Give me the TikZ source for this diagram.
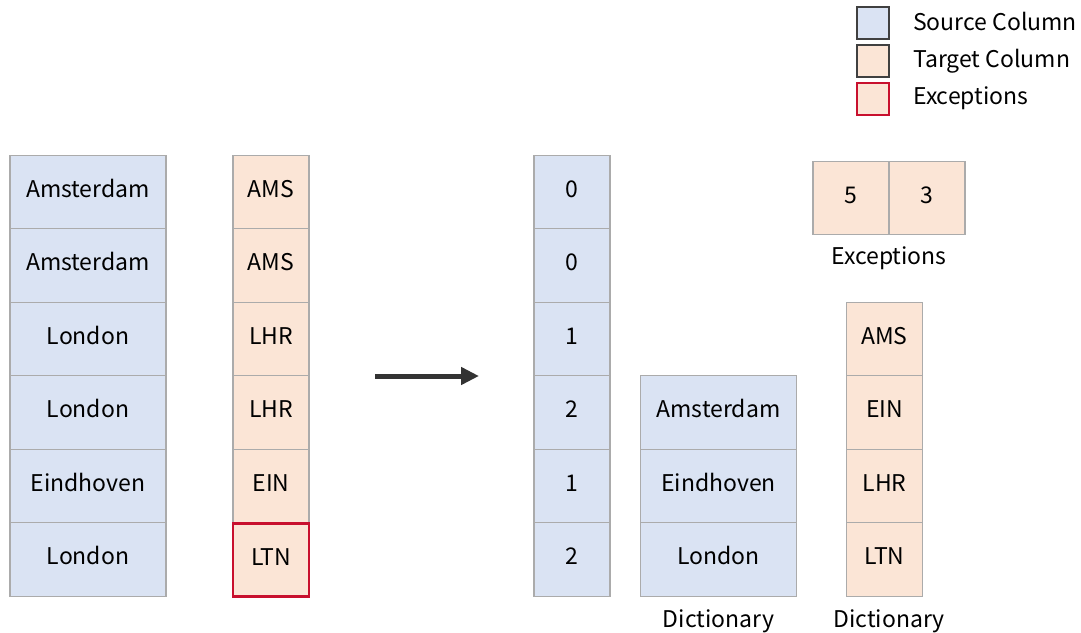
\documentclass[tikz,border=0pt]{standalone}
\usepackage{fontspec}
\setmainfont{Noto Sans CJK SC}
\usetikzlibrary{arrows.meta}
\definecolor{srcblue}{HTML}{DAE3F3}
\definecolor{tgtorange}{HTML}{FBE5D6}
\definecolor{cellgray}{HTML}{ABABAB}
\definecolor{legendgray}{HTML}{404040}
\definecolor{excred}{HTML}{C8102E}
\definecolor{arrowgray}{HTML}{333333}
\begin{document}
\begin{tikzpicture}[x=1pt,y=-1pt,
  txt/.style={font=\fontsize{23}{26}\selectfont, text=black},
  cell/.style={txt, draw=cellgray, line width=1.3pt, inner sep=0pt, minimum height=73.5pt,
    text height=16pt, text depth=5.2pt},
  srccell/.style={cell, fill=srcblue},
  tgtcell/.style={cell, fill=tgtorange},
  wide/.style={minimum width=156pt},
  narrow/.style={minimum width=76pt},
  excbox/.style={draw=excred, line width=2.6pt},
  legbox/.style={draw=legendgray, line width=1.8pt, minimum width=32pt, minimum height=32pt, inner sep=0pt},
  legtxt/.style={txt, anchor=base west, inner sep=0pt},
  caption/.style={txt, anchor=base, inner sep=0pt}
]
\useasboundingbox (0,0) rectangle (1081,632);

% legend
\node[legbox, fill=srcblue] (lg1) at (873,23) {};
\node[legbox, fill=tgtorange] (lg2) at (873,61) {};
\node[legbox, fill=tgtorange, draw=excred, line width=2.2pt] (lg3) at (873,99) {};
\node[legtxt] (lt1) at (913,30.5) {Source Column};
\node[legtxt] (lt2) at (913,67) {Target Column};
\node[legtxt] (lt3) at (913,104.5) {Exceptions};

% original source column
\node[srccell, wide] (s1) at (88,192) {Amsterdam};
\node[srccell, wide] (s2) at (88,265.5) {Amsterdam};
\node[srccell, wide] (s3) at (88,339) {London};
\node[srccell, wide] (s4) at (88,412.5) {London};
\node[srccell, wide] (s5) at (88,486) {Eindhoven};
\node[srccell, wide] (s6) at (88,559.5) {London};

% original target column
\node[tgtcell, narrow] (t1) at (271,192) {AMS};
\node[tgtcell, narrow] (t2) at (271,265.5) {AMS};
\node[tgtcell, narrow] (t3) at (271,339) {LHR};
\node[tgtcell, narrow] (t4) at (271,412.5) {LHR};
\node[tgtcell, narrow] (t5) at (271,486) {EIN};
\node[tgtcell, narrow, excbox] (t6) at (271,560) {LTN};

% transformation arrow
\coordinate (a0) at (375,376);
\coordinate (a1) at (479,376);
\draw[arrowgray, line width=5pt, -{Triangle[length=18pt,width=17pt]}] (a0) -- (a1);

% encoded column
\node[srccell, narrow] (c1) at (572,192) {0};
\node[srccell, narrow] (c2) at (572,265.5) {0};
\node[srccell, narrow] (c3) at (572,339) {1};
\node[srccell, narrow] (c4) at (572,412.5) {2};
\node[srccell, narrow] (c5) at (572,486) {1};
\node[srccell, narrow] (c6) at (572,559.5) {2};

% source dictionary
\node[srccell, wide] (d1) at (718.5,412.5) {Amsterdam};
\node[srccell, wide] (d2) at (718.5,486) {Eindhoven};
\node[srccell, wide] (d3) at (718.5,559.5) {London};
\node[caption] (dcap1) at (718.5,627) {Dictionary};

% target dictionary
\node[tgtcell, narrow] (e1) at (884.5,339) {AMS};
\node[tgtcell, narrow] (e2) at (884.5,412.5) {EIN};
\node[tgtcell, narrow] (e3) at (884.5,486) {LHR};
\node[tgtcell, narrow] (e4) at (884.5,559.5) {LTN};
\node[caption] (dcap2) at (889,627) {Dictionary};

% exceptions
\node[tgtcell, narrow, minimum height=73pt] (x1) at (851,198) {5};
\node[tgtcell, narrow, minimum height=73pt] (x2) at (927,198) {3};
\node[caption] (xcap) at (889,264) {Exceptions};
\end{tikzpicture}
\end{document}
